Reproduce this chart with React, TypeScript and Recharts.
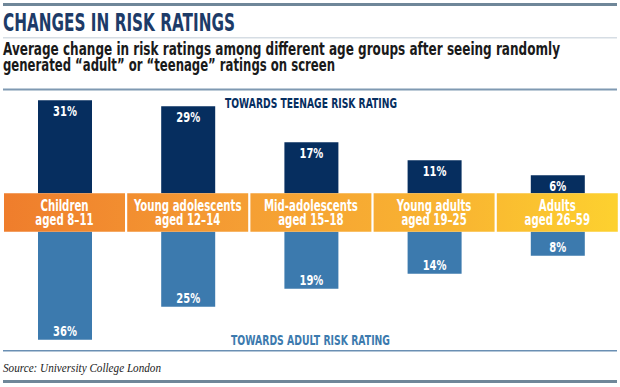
import React from "react";
import { BarChart, Bar, XAxis, YAxis, LabelList } from "recharts";

const categoriesLine1 = ["Children", "Young adolescents", "Mid-adolescents", "Young adults", "Adults"];
const categoriesLine2 = ["aged 8–11", "aged 12–14", "aged 15–18", "aged 19–25", "aged 26–59"];
const teenValues = [31, 29, 17, 11, 6];
const adultValues = [36, 25, 19, 14, 8];

const TITLE = "CHANGES IN RISK RATINGS";
const SUBTITLE_1 = "Average change in risk ratings among different age groups after seeing randomly";
const SUBTITLE_2 = "generated “adult” or “teenage” ratings on screen";
const TOP_LABEL = "TOWARDS TEENAGE RISK RATING";
const BOTTOM_LABEL = "TOWARDS ADULT RISK RATING";
const SOURCE = "Source: University College London";

// half thickness of the category band, in value units
const B = 6.4;

const data = categoriesLine1.map((c, i) => ({
  name: c,
  band: [-B, B],
  teen: [B, B + teenValues[i]],
  adult: [-B - adultValues[i], -B],
  teenVal: teenValues[i],
  adultVal: adultValues[i],
}));

const COND = "'DejaVu Sans', 'Liberation Sans', sans-serif";
const NAVY = "#062e5f";
const LIGHT = "#3c7aae";

const TeenLabel = (props: any) => {
  const { x, y, width, height, value } = props;
  const top = Math.min(y, y + height);
  return (
    <text transform={`translate(${x + width / 2},${top + 15.5}) scale(0.74,1)`} textAnchor="middle" fill="#fff" fontSize={13.5} fontWeight={700} fontFamily={COND}>
      {value}%
    </text>
  );
};

const AdultLabel = (props: any) => {
  const { x, y, width, height, value } = props;
  const bottom = Math.max(y, y + height);
  return (
    <text transform={`translate(${x + width / 2},${bottom - 4}) scale(0.74,1)`} textAnchor="middle" fill="#fff" fontSize={13.5} fontWeight={700} fontFamily={COND}>
      {value}%
    </text>
  );
};

const BandLabel = (props: any) => {
  const { x, y, width, height, index } = props;
  const top = Math.min(y, y + height);
  const cx = x + width / 2;
  return (
    <g>
      <text transform={`translate(${cx},${top + 17.5}) scale(0.68,1)`} textAnchor="middle" fill="#fff" fontSize={15} fontWeight={700} fontFamily={COND}>
        {categoriesLine1[index]}
      </text>
      <text transform={`translate(${cx},${top + 31.5}) scale(0.68,1)`} textAnchor="middle" fill="#fff" fontSize={15} fontWeight={700} fontFamily={COND}>
        {categoriesLine2[index]}
      </text>
    </g>
  );
};

export default function App() {
  return (
    <div style={{ position: "relative", width: 620, height: 387, background: "#fff" }}>
      <style>{"body{margin:0}"}</style>
      <BarChart
        width={620}
        height={387}
        data={data}
        margin={{ top: 92.5, right: 1, bottom: 39.5, left: 3 }}
        barCategoryGap={1}
      >
        <defs>
          <linearGradient id="bandGrad" gradientUnits="userSpaceOnUse" x1={3} y1={0} x2={617} y2={0}>
            <stop offset="0%" stopColor="#ef7d2c" />
            <stop offset="40%" stopColor="#f59f34" />
            <stop offset="75%" stopColor="#f9b631" />
            <stop offset="100%" stopColor="#fdd12f" />
          </linearGradient>
        </defs>
        <XAxis xAxisId="band" dataKey="name" hide />
        <XAxis xAxisId="teen" dataKey="name" hide />
        <XAxis xAxisId="adult" dataKey="name" hide />
        <YAxis hide domain={[-45, 40]} type="number" allowDataOverflow />
        <Bar xAxisId="teen" dataKey="teen" fill={NAVY} barSize={54} isAnimationActive={false}>
          <LabelList dataKey="teenVal" content={TeenLabel} />
        </Bar>
        <Bar xAxisId="adult" dataKey="adult" fill={LIGHT} barSize={54} isAnimationActive={false}>
          <LabelList dataKey="adultVal" content={AdultLabel} />
        </Bar>
        <Bar xAxisId="band" dataKey="band" fill="url(#bandGrad)" isAnimationActive={false}>
          <LabelList dataKey="name" content={BandLabel} />
        </Bar>
      </BarChart>
      <svg width={620} height={387} style={{ position: "absolute", left: 0, top: 0, pointerEvents: "none" }}>
        <rect x={3} y={3} width={614} height={3} fill="#6f8799" />
        <text x={3} y={31} fontSize={25} fontWeight={700} fill="#1d3b68" fontFamily={COND} textLength={232} lengthAdjust="spacingAndGlyphs">
          {TITLE}
        </text>
        <rect x={3} y={37} width={614} height={1.5} fill="#d6dde4" />
        <text x={3} y={55} fontSize={17} fontWeight={700} fill="#1a1a1a" fontFamily={COND} textLength={557} lengthAdjust="spacingAndGlyphs">
          {SUBTITLE_1}
        </text>
        <text x={3} y={71} fontSize={17} fontWeight={700} fill="#1a1a1a" fontFamily={COND} textLength={332} lengthAdjust="spacingAndGlyphs">
          {SUBTITLE_2}
        </text>
        <rect x={3} y={88.5} width={614} height={2} fill="#7f99b2" />
        <text x={225} y={108} fontSize={14} fontWeight={700} fill={NAVY} fontFamily={COND} textLength={172} lengthAdjust="spacingAndGlyphs">
          {TOP_LABEL}
        </text>
        <text x={231} y={345} fontSize={14} fontWeight={700} fill={LIGHT} fontFamily={COND} textLength={159} lengthAdjust="spacingAndGlyphs">
          {BOTTOM_LABEL}
        </text>
        <rect x={3} y={350} width={614} height={1.5} fill="#6a8fb3" />
        <text x={3} y={372} fontSize={13} fontStyle="italic" fill="#222" fontFamily="'Liberation Serif', 'DejaVu Serif', serif" textLength={158} lengthAdjust="spacingAndGlyphs">
          {SOURCE}
        </text>
        <rect x={3} y={380} width={614} height={3} fill="#6f8799" />
      </svg>
    </div>
  );
}
